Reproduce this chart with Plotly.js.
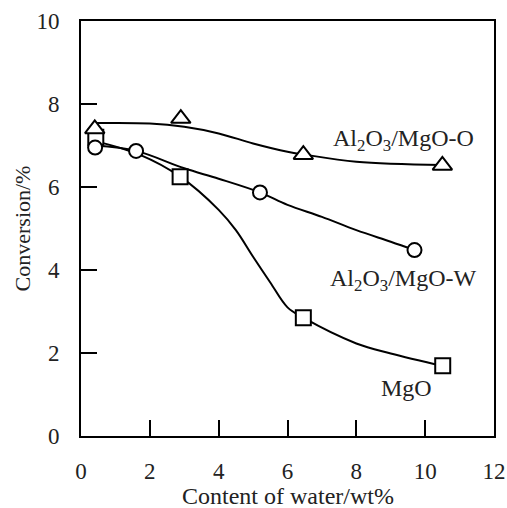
<!DOCTYPE html>
<html><head><meta charset="utf-8">
<script src="https://cdn.plot.ly/plotly-3.0.1.min.js"></script>
<style>html,body{margin:0;padding:0;background:#fff}#c{width:507px;height:508px}</style>
</head><body><div id="c"></div>
<script>
// Measured points
const triX = [0.4, 2.9, 6.46, 10.5];
const triY = [7.4, 7.65, 6.78, 6.52];
const cirX = [0.41, 1.6, 5.2, 9.69];
const cirY = [6.95, 6.87, 5.87, 4.48];
const sqX = [0.43, 2.88, 6.46, 10.51];
const sqY = [7.2, 6.25, 2.85, 1.69];
// Smooth guide curves
const triCurveX = [0.4, 2, 3, 4, 5, 6, 6.5, 8, 10.5];
const triCurveY = [7.54, 7.53, 7.45, 7.29, 7.05, 6.85, 6.78, 6.61, 6.53];
const cirCurveX = [0.41, 1.6, 3, 4, 5.2, 6, 7, 8, 9, 9.69];
const cirCurveY = [7.0, 6.87, 6.45, 6.2, 5.87, 5.57, 5.28, 4.96, 4.68, 4.48];
const sqCurveX = [0.43, 1.7, 2.88, 4, 4.5, 5, 5.5, 6, 6.46, 8, 9, 10.51];
const sqCurveY = [7.1, 6.78, 6.25, 5.45, 4.96, 4.32, 3.7, 3.1, 2.85, 2.23, 1.99, 1.69];
const labels = ['Al<sub>2</sub>O<sub>3</sub>/MgO-O', 'Al<sub>2</sub>O<sub>3</sub>/MgO-W', 'MgO'];
const labelX = [9.36, 9.36, 9.45];
const labelY = [7.13, 3.76, 1.16];
const xTicks = [0, 2, 4, 6, 8, 10, 12];
const yTicks = [0, 2, 4, 6, 8, 10];
const xTitle = 'Content of water/wt%';
const yTitle = 'Conversion/%';

const font = 'Liberation Serif, Times New Roman, serif';
const lineStyle = {color: '#000', width: 2, shape: 'spline', smoothing: 1};
const traces = [
  {x: triCurveX, y: triCurveY, mode: 'lines', line: lineStyle, hoverinfo: 'skip'},
  {x: cirCurveX, y: cirCurveY, mode: 'lines', line: lineStyle, hoverinfo: 'skip'},
  {x: sqCurveX, y: sqCurveY, mode: 'lines', line: lineStyle, hoverinfo: 'skip'},
  {x: sqX, y: sqY, mode: 'markers', marker: {symbol: 'square', size: 15, color: '#fff', line: {color: '#000', width: 2}}},
  {x: cirX, y: cirY, mode: 'markers', marker: {symbol: 'circle', size: 14, color: '#fff', line: {color: '#000', width: 2}}},
  {x: triX, y: triY, mode: 'markers', marker: {symbol: 'triangle-up', size: 17, color: '#fff', line: {color: '#000', width: 2}}}
];
const axisCommon = {
  showgrid: false, zeroline: false, showline: true, mirror: true,
  linecolor: '#000', linewidth: 2, ticks: 'inside', ticklen: 16, tickwidth: 2,
  tickcolor: '#000', tickfont: {family: font, size: 23, color: '#222'}
};
const annotations = labels.map((t, i) => ({
  x: labelX[i], y: labelY[i], xref: 'x', yref: 'y', text: t, showarrow: false,
  font: {family: font, size: 24, color: '#222'}
}));
annotations.push({
  x: 0.5, y: 0, xref: 'paper', yref: 'paper', text: xTitle, showarrow: false,
  xanchor: 'center', yanchor: 'middle', yshift: -60,
  font: {family: font, size: 24, color: '#222'}
});
const layout = {
  width: 507, height: 508,
  margin: {l: 81, r: 13, t: 21, b: 72},
  paper_bgcolor: '#fff', plot_bgcolor: '#fff',
  showlegend: false,
  xaxis: Object.assign({}, axisCommon, {
    range: [0, 12], tickvals: xTicks, ticktext: xTicks.map(String), ticklabelstandoff: 13
  }),
  yaxis: Object.assign({}, axisCommon, {
    range: [0, 10], tickvals: yTicks, ticktext: yTicks.map(String), ticklabelstandoff: 15,
    title: {text: yTitle, font: {family: font, size: 22, color: '#222'}, standoff: 0}
  }),
  annotations: annotations
};
Plotly.newPlot('c', traces, layout, {staticPlot: true});
</script></body></html>
